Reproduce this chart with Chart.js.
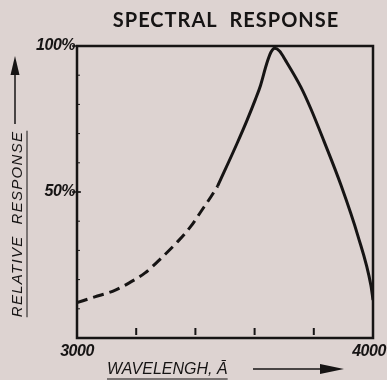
<!DOCTYPE html>
<html>
<head>
<meta charset="utf-8">
<script src="https://cdn.jsdelivr.net/npm/chart.js@4/dist/chart.umd.min.js"></script>
<style>
  html, body { margin: 0; padding: 0; background: #ddd3d1; }
  #wrap { width: 387px; height: 380px; position: relative; }
</style>
</head>
<body>
<div id="wrap"><canvas id="spectrum"></canvas></div>
<script>
// wavelength (Angstrom) and relative response (%)
const dashedWavelengths = [3000, 3060, 3120, 3175, 3230, 3285, 3340, 3385, 3420, 3452, 3475];
const dashedResponse    = [12.1, 14.1, 16.0, 18.8, 22.3, 27.4, 33.0, 38.3, 43.5, 48.3, 52.0];
const solidWavelengths  = [3475, 3541, 3575, 3603, 3620, 3641, 3656, 3668, 3684, 3705, 3756, 3790, 3834, 3892, 3949, 3993, 4000];
const solidResponse     = [52.0, 66.7, 74.7, 81.8, 86.5, 94.0, 98.0, 99.2, 98.3, 95.0, 86.0, 78.5, 67.5, 52.3, 35.0, 18.0, 13.0];
const xTicks = [3000, 3200, 3400, 3600, 3800, 4000];
const xTickLabels = ['3000', '4000'];
const yTickLabels = [{ v: 100, t: '100%' }, { v: 50, t: '50%' }];

const ink = '#161414';
const toPoints = (xs, ys) => xs.map((x, i) => ({ x, y: ys[i] }));

const frame = {
  id: 'frame',
  afterDraw(chart) {
    const { ctx, chartArea: a, scales: { x, y } } = chart;
    ctx.save();
    ctx.strokeStyle = ink;
    ctx.fillStyle = ink;

    // box
    ctx.lineWidth = 2.5;
    ctx.strokeRect(a.left, a.top, a.right - a.left, a.bottom - a.top);

    // x ticks inside
    ctx.lineWidth = 2;
    xTicks.slice(1, -1).forEach(v => {
      const px = x.getPixelForValue(v);
      ctx.beginPath(); ctx.moveTo(px, a.bottom - 10); ctx.lineTo(px, a.bottom - 3); ctx.stroke();
    });
    // y minor ticks
    ctx.lineWidth = 1;
    for (let v = 10; v < 100; v += 10) {
      const py = y.getPixelForValue(v);
      ctx.beginPath(); ctx.moveTo(a.left, py); ctx.lineTo(a.left + 3, py); ctx.stroke();
    }
    ctx.lineWidth = 1.5;
    yTickLabels.forEach(o => {
      const py = y.getPixelForValue(o.v);
      ctx.beginPath(); ctx.moveTo(a.left - 5, py); ctx.lineTo(a.left + 4, py); ctx.stroke();
    });

    // tick labels
    ctx.font = 'italic bold 16px "Liberation Sans"';
    ctx.textBaseline = 'middle';
    ctx.textAlign = 'right';
    ctx.letterSpacing = '-0.5px';
    yTickLabels.forEach(o => ctx.fillText(o.t, a.left - 2, y.getPixelForValue(o.v)));
    ctx.textAlign = 'center';
    ctx.fillText(xTickLabels[0], x.getPixelForValue(3000), a.bottom + 14);
    ctx.fillText(xTickLabels[1], x.getPixelForValue(4000) - 4, a.bottom + 14);
    ctx.letterSpacing = '0px';

    // title
    ctx.font = 'bold 20px "Lato"';
    ctx.letterSpacing = '1px';
    ctx.textAlign = 'center';
    ctx.fillText('SPECTRAL  RESPONSE', 226, 21);
    ctx.letterSpacing = '0px';

    // x axis title + arrow
    ctx.font = 'italic 16px "Liberation Sans"';
    ctx.textAlign = 'left';
    const xt = 'WAVELENGH, Ā';
    ctx.fillText(xt, 107, 370);
    const xw = ctx.measureText(xt).width;
    ctx.lineWidth = 1;
    ctx.beginPath(); ctx.moveTo(107, 379); ctx.lineTo(107 + xw, 379); ctx.stroke();
    ctx.lineWidth = 1.5;
    ctx.beginPath(); ctx.moveTo(253, 369); ctx.lineTo(330, 369); ctx.stroke();
    ctx.beginPath(); ctx.moveTo(344, 369); ctx.lineTo(320, 364); ctx.lineTo(320, 374); ctx.closePath(); ctx.fill();

    // y axis title + arrow
    ctx.save();
    ctx.translate(18, 224);
    ctx.rotate(-Math.PI / 2);
    ctx.textAlign = 'center';
    ctx.font = 'italic 15px "Liberation Sans"';
    ctx.letterSpacing = '1.3px';
    const yt = 'RELATIVE  RESPONSE';
    ctx.fillText(yt, 0, 0);
    const yw = ctx.measureText(yt).width;
    ctx.lineWidth = 1;
    ctx.beginPath(); ctx.moveTo(-yw / 2, 9); ctx.lineTo(yw / 2, 9); ctx.stroke();
    ctx.restore();
    ctx.lineWidth = 1.5;
    ctx.beginPath(); ctx.moveTo(15, 124); ctx.lineTo(15, 66); ctx.stroke();
    ctx.beginPath(); ctx.moveTo(15, 56); ctx.lineTo(10.5, 75); ctx.lineTo(19.5, 75); ctx.closePath(); ctx.fill();

    ctx.restore();
  }
};

new Chart(document.getElementById('spectrum'), {
  type: 'scatter',
  data: {
    datasets: [
      {
        data: toPoints(dashedWavelengths, dashedResponse),
        showLine: true,
        borderColor: ink,
        borderWidth: 3,
        borderDash: [11, 6],
        pointRadius: 0,
        cubicInterpolationMode: 'monotone'
      },
      {
        data: toPoints(solidWavelengths, solidResponse),
        showLine: true,
        borderColor: ink,
        borderWidth: 3,
        pointRadius: 0,
        cubicInterpolationMode: 'monotone'
      }
    ]
  },
  options: {
    responsive: true,
    maintainAspectRatio: false,
    animation: false,
    layout: { padding: { left: 77, right: 14, top: 46, bottom: 42 } },
    plugins: { legend: { display: false }, tooltip: { enabled: false } },
    scales: {
      x: { type: 'linear', min: 3000, max: 4000, display: false },
      y: { min: 0, max: 100, display: false }
    }
  },
  plugins: [frame]
});
</script>
</body>
</html>
